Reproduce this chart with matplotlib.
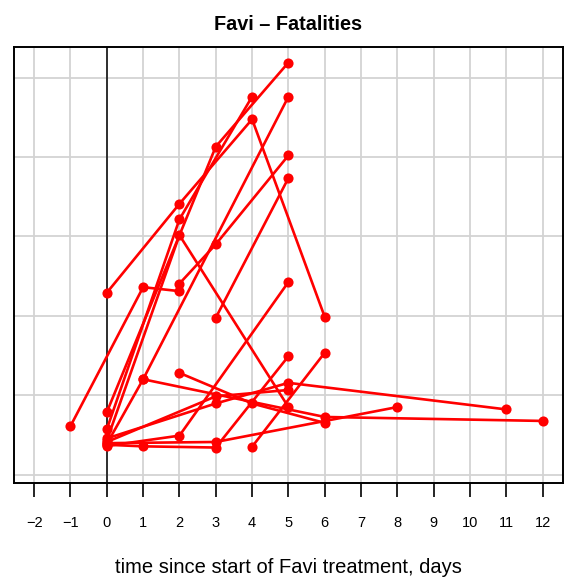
import matplotlib
matplotlib.use("Agg")
import matplotlib.pyplot as plt

plt.rcParams['font.family'] = ['Liberation Sans', 'DejaVu Sans']

# Each patient: days since start of treatment and the measured value
days = [
    [0, 2, 4, 6],
    [0, 3, 5],
    [0, 2, 4],
    [0, 2, 5],
    [-1, 1, 2],
    [0, 1, 6, 12],
    [1, 5],
    [2, 4, 6],
    [0, 3, 5, 11],
    [0, 3, 5],
    [0, 2, 5],
    [3, 5],
    [2, 3, 5],
    [4, 6],
    [0, 3, 8],
    [0, 1, 3, 5],
]
values = [
    [45.8, 68.2, 89.5, 39.7],
    [15.7, 82.6, 103.8],
    [11.4, 64.3, 95.2],
    [8.6, 60.3, 17.0],
    [12.2, 47.2, 46.2],
    [7.7, 24.0, 14.5, 13.5],
    [24.0, 95.2],
    [25.6, 17.9, 13.0],
    [9.1, 17.9, 23.1, 16.4],
    [8.2, 19.7, 21.3],
    [7.2, 9.8, 48.5],
    [39.5, 74.7],
    [48.1, 58.0, 80.4],
    [7.0, 30.7],
    [7.9, 8.2, 17.0],
    [7.5, 7.1, 6.8, 29.8],
]

x_ticks = list(range(-2, 13))
x_labels = [str(t).replace('-', '\u2212') for t in x_ticks]
y_grid = [0, 20, 40, 60, 80, 100]

fig = plt.figure(figsize=(5.69, 5.83), dpi=100)
ax = fig.add_axes([0.0243, 0.1715, 0.9652, 0.7485])

for g in x_ticks:
    ax.axvline(g, color='#d3d3d3', lw=1.3, zorder=0)
for g in y_grid:
    ax.axhline(g, color='#d3d3d3', lw=1.3, zorder=0)
ax.axvline(0, color='black', lw=1.1, zorder=1)

for d, v in zip(days, values):
    ax.plot(d, v, color='#ff0000', lw=1.9, marker='o', markersize=7.3,
            markeredgewidth=0, zorder=3, solid_capstyle='round')

ax.set_xlim(-2.56, 12.56)
ax.set_ylim(-2.14, 107.8)
ax.set_xticks(x_ticks)
ax.set_xticklabels(x_labels)
ax.set_yticks([])
ax.tick_params(axis='x', length=10, width=1.2, pad=14, labelsize=10.5)
for s in ax.spines.values():
    s.set_linewidth(1.4)

ax.set_xlabel('time since start of Favi treatment, days', fontsize=14.5, labelpad=20)
ax.set_title('Favi – Fatalities', fontsize=14.3, fontweight='bold', pad=12)

fig.savefig('out.png', dpi=100)
